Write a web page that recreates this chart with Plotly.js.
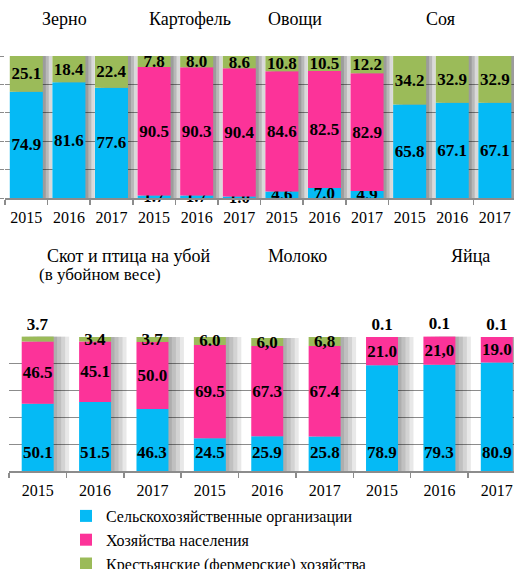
<!DOCTYPE html>
<html>
<head>
<meta charset="utf-8">
<script src="https://cdn.plot.ly/plotly-3.0.1.min.js"></script>
<style>body{margin:0;overflow:hidden;background:#fff}</style>
</head>
<body>
<div id="chart"></div>
<script>
// Top panel: crops, shares by type of producer, %
var topGroups = ['Зерно', 'Картофель', 'Овощи', 'Соя'];
var years = ['2015', '2016', '2017'];
var topOrg   = [74.9, 81.6, 77.6, 1.7, 1.7, 1.0, 4.6, 7.0, 4.9, 65.8, 67.1, 67.1];
var topHouse = [null, null, null, 90.5, 90.3, 90.4, 84.6, 82.5, 82.9, null, null, null];
var topFarm  = [25.1, 18.4, 22.4, 7.8, 8.0, 8.6, 10.8, 10.5, 12.2, 34.2, 32.9, 32.9];

// Bottom panel: livestock
var botGroups = ['Скот и птица на убой', 'Молоко', 'Яйца'];
var botSubtitle = '(в убойном весе)';
var botOrg   = [50.1, 51.5, 46.3, 24.5, 25.9, 25.8, 78.9, 79.3, 80.9];
var botHouse = [46.5, 45.1, 50.0, 69.5, 67.3, 67.4, 21.0, 21.0, 19.0];
var botFarm  = [3.7, 3.4, 3.7, 6.0, 6.0, 6.8, 0.1, 0.1, 0.1];
// points printed with a decimal comma in the source
var botHouseComma = [7];
var botFarmComma = [4, 5];

var seriesNames = ['Сельскохозяйственные организации', 'Хозяйства населения', 'Крестьянские (фермерские) хозяйства'];
var seriesColors = ['#05baf5', '#fc3399', '#9bbb59'];

var W = 514, H = 569;
var FONT = '"Liberation Serif", "Times New Roman", serif';
var GRID = '#8c8c8c';

function px(x) { return x / W; }
function py(y) { return 1 - y / H; }

function fmt(arr, commaIdx) {
    return arr.map(function (v, i) {
        if (v === null) return '';
        var s = v.toFixed(1);
        return commaIdx.indexOf(i) >= 0 ? s.replace('.', ',') : s;
    });
}

function repeatYears(nGroups) {
    var out = [];
    for (var g = 0; g < nGroups; g++) out = out.concat(years);
    return out;
}

// build shadow + stacked bars for one panel
function buildPanel(series, labels, textpos, xa, ya, barW, shifts, alpha, legend) {
    var x = series[0].map(function (d, i) { return i; });
    var totals = x.map(function (i) {
        return series.reduce(function (s, arr) { return s + (arr[i] || 0); }, 0);
    });
    var traces = [];
    shifts.forEach(function (sh) {
        traces.push({
            type: 'bar', x: x, y: totals, xaxis: xa, yaxis: ya,
            width: barW, offset: -barW / 2 + sh,
            marker: {color: 'rgba(0,0,0,' + alpha + ')', line: {width: 0}},
            hoverinfo: 'skip', showlegend: false, cliponaxis: false
        });
    });
    series.forEach(function (arr, k) {
        var base = x.map(function (i) {
            var b = 0;
            for (var j = 0; j < k; j++) b += (series[j][i] || 0);
            return b;
        });
        traces.push({
            type: 'bar', x: x, y: arr, base: base, xaxis: xa, yaxis: ya,
            width: barW, name: seriesNames[k], showlegend: legend,
            marker: {color: seriesColors[k], line: {width: 0}},
            text: labels[k], textposition: textpos[k], insidetextanchor: 'middle',
            textangle: 0, constraintext: 'none', cliponaxis: false,
            textfont: {family: FONT, size: 17, color: '#000', weight: 'bold'}
        });
    });
    return traces;
}

var data = [];
data = data.concat(buildPanel(
    [topOrg, topHouse, topFarm],
    [fmt(topOrg, []), fmt(topHouse, []), fmt(topFarm, [])],
    ['inside', 'inside', 'inside'],
    'x', 'y', 0.775, [0.22, 0.14, 0.07], 0.15, true));

var botFarmPos = ['outside', 'inside', 'inside', 'inside', 'inside', 'inside', 'outside', 'outside', 'outside'];
data = data.concat(buildPanel(
    [botOrg, botHouse, botFarm],
    [botOrg.map(function () { return ''; }), fmt(botHouse, botHouseComma), fmt(botFarm, botFarmComma)],
    ['inside', 'inside', botFarmPos],
    'x2', 'y2', 0.557, [0.27, 0.2, 0.13, 0.06], 0.09, false));

var annotations = [];
// blue labels in the lower panel sit near the base of the bars
fmt(botOrg, []).forEach(function (t, i) {
    annotations.push({
        x: i, y: 14, xref: 'x2', yref: 'y2', text: t, showarrow: false,
        font: {family: FONT, size: 17, color: '#000', weight: 'bold'}
    });
});

var titleFont = {family: FONT, size: 18, color: '#000'};
var topTitleX = [64, 190, 295, 440];
topGroups.forEach(function (g, i) {
    annotations.push({x: px(topTitleX[i]), y: py(19), xref: 'paper', yref: 'paper',
        text: g, showarrow: false, font: titleFont, xanchor: 'center', yanchor: 'middle'});
});
var botTitleX = [128, 297, 470];
botGroups.forEach(function (g, i) {
    annotations.push({x: px(botTitleX[i]), y: py(256), xref: 'paper', yref: 'paper',
        text: g, showarrow: false, font: titleFont, xanchor: 'center', yanchor: 'middle'});
});
annotations.push({x: px(37), y: py(274.5), xref: 'paper', yref: 'paper',
    text: botSubtitle, showarrow: false, font: {family: FONT, size: 17, color: '#000'},
    xanchor: 'left', yanchor: 'middle'});

function xAxis(domain, range, n, anchor) {
    var vals = [];
    for (var i = 0; i < n; i++) vals.push(i);
    return {
        domain: domain, range: range, anchor: anchor, fixedrange: true,
        tickmode: 'array', tickvals: vals, ticktext: repeatYears(n / 3),
        ticks: 'outside', ticklen: 4, tickcolor: 'rgba(0,0,0,0)',
        minor: {tick0: -0.5, dtick: 1, ticks: 'outside', ticklen: 5, tickcolor: GRID, tickwidth: 1.5, showgrid: false},
        showgrid: false, zeroline: false,
        showline: true, linecolor: GRID, linewidth: 2,
        tickfont: {family: FONT, size: 16, color: '#000'}
    };
}

function yAxis(domain, range, ticklen, anchor) {
    return {
        domain: domain, range: range, anchor: anchor, tick0: 0, dtick: 20, fixedrange: true,
        showgrid: true, gridcolor: GRID, gridwidth: 1,
        showticklabels: false, ticks: ticklen ? 'outside' : '', ticklen: ticklen, tickcolor: GRID,
        zeroline: false, showline: false
    };
}

var layout = {
    width: W, height: H,
    margin: {l: 0, r: 0, t: 0, b: 0, autoexpand: false},
    paper_bgcolor: '#fff', plot_bgcolor: 'rgba(0,0,0,0)',
    barmode: 'overlay',
    font: {family: FONT, color: '#000'},
    xaxis: xAxis([px(5), 1], [-0.5, 11.45], 12, 'y'),
    yaxis: yAxis([py(198), py(55.3)], [0, 100.5], 5, 'x'),
    xaxis2: xAxis([px(9), 1], [-0.5, 8.30], 9, 'y2'),
    yaxis2: yAxis([py(471), py(336.3)], [0, 100.5], 0, 'x2'),
    showlegend: true,
    legend: {
        x: px(66), y: py(499), xanchor: 'left', yanchor: 'top',
        orientation: 'v', traceorder: 'normal', tracegroupgap: 0,
        font: {family: FONT, size: 16, color: '#000'},
        bgcolor: 'rgba(0,0,0,0)'
    },
    annotations: annotations
};

Plotly.newPlot('chart', data, layout, {displayModeBar: false, staticPlot: true});
</script>
</body>
</html>
